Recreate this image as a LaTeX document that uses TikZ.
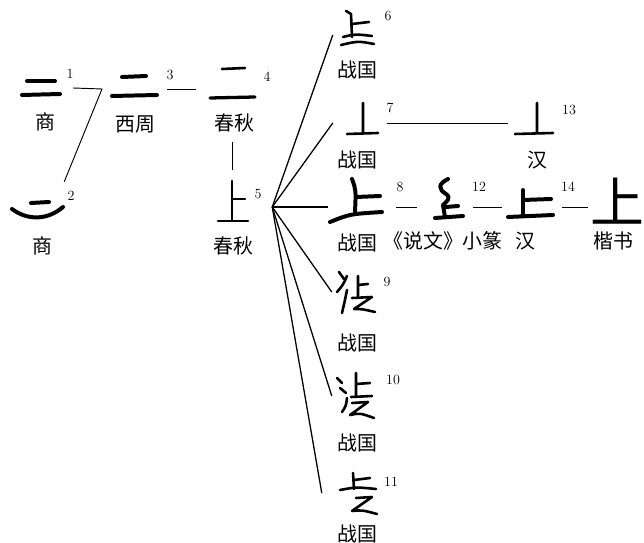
\documentclass[tikz,border=0pt]{standalone}
\usepackage{fontspec}
\usepackage{tikz}
\newfontfamily\cjk{Noto Sans CJK SC}

\begin{document}
\begin{tikzpicture}[x=0.03cm,y=-0.03cm,
        gbox/.style 2 args={rectangle,inner sep=0pt,
                    minimum width=#1*0.03cm,minimum height=#2*0.03cm},
        era/.style={font=\cjk\fontsize{17}{19}\selectfont,inner sep=0pt},
        num/.style={font=\fontsize{12}{12}\selectfont,inner sep=0pt},
        brush/.style={line width=3.4pt,line cap=round,line join=round},
        pen/.style={line width=2.2pt,line cap=round,line join=round},
        link/.style={line width=0.8pt},
        hub/.style={line width=1.1pt}]
      \useasboundingbox (0,0) rectangle (644,543);
      %% ── Glyph boxes (invisible, used as line ends) ───────
      \node[gbox={54}{30}] (g1)  at (46,88)  {};
      \node[gbox={48}{54}] (g2)  at (40,209) {};
      \node[gbox={64}{30}] (g3)  at (135,89) {};
      \node[gbox={72}{106}](g4)  at (232,89) {};
      \node[gbox={80}{74}] (g5)  at (232,207){};
      \node[gbox={48}{50}] (g6)  at (357,35) {};
      \node[gbox={54}{40}] (g7)  at (360,123){};
      \node[gbox={54}{40}] (g13) at (535,123){};
      \node[gbox={68}{46}] (g8)  at (362,207){};
      \node[gbox={56}{46}] (g12) at (445,207){};
      \node[gbox={60}{46}] (g14) at (532,207){};
      \node[gbox={50}{50}] (g9)  at (357,292){};
      \node[gbox={50}{50}] (g10) at (357,396){};
      \node[gbox={60}{50}] (g11) at (352,493){};
      \node[font=\cjk\fontsize{46}{48}\selectfont,inner sep=0pt,
            minimum width=58*0.03cm] (gk) at (617,201) {上};
      \coordinate (k1) at (102,89);
      %% ── Shang / Western Zhou / Spring-Autumn strokes ─────
      \draw[brush] (27,81) -- (55,81);
      \draw[brush] (22,95) -- (60,94);
      \draw[brush] (31,203) -- (49,202);
      \draw[brush] (12,209) .. controls (28,221) and (48,220) .. (63,207);
      \draw[brush] (122,77) -- (146,76);
      \draw[brush] (112,96) -- (157,95);
      \draw[pen] (222,69) -- (245,68);
      \draw[line width=2.8pt,line cap=round] (210,98) -- (255,97);
      \draw[pen] (232,181) -- (232,221) (232,199) -- (245,199)
                 (218,221) -- (248,221);
      %% ── Warring States strokes ───────────────────────────
      \draw[pen] (346,11) -- (351,14) -- (352,37);
      \draw[pen] (352,24) -- (369,22);
      \draw[pen] (343,37) .. controls (355,34) .. (372,36);
      \draw[pen] (341,45) .. controls (358,41) .. (374,44);
      \draw[pen] (363,103) -- (363,133) (347,134) -- (378,133);
      \draw[brush] (352,179) .. controls (356,190) .. (355,212);
      \draw[brush] (356,197) -- (380,196);
      \draw[brush] (330,222) .. controls (350,214) .. (382,212);
      \draw[pen] (339,272) -- (344,279);
      \draw[pen] (347,276) .. controls (343,285) .. (337,292);
      \draw[pen] (347,290) .. controls (345,300) .. (342,313);
      \draw[pen] (358,276) -- (358,296) (358,285) -- (368,284);
      \draw[pen] (352,298) -- (372,297) -- (354,309)
                 .. controls (362,309) .. (375,312);
      \draw[pen] (337,378) -- (342,383);
      \draw[pen] (340,388) -- (346,393);
      \draw[pen] (347,398) .. controls (346,406) .. (342,412);
      \draw[pen] (356,373) -- (356,396) (356,384) -- (370,383);
      \draw[pen] (351,397) -- (372,396);
      \draw[pen] (352,403) -- (368,402) -- (350,415)
                 .. controls (360,413) .. (374,418);
      \draw[pen] (353,473) -- (354,489) (354,480) -- (370,478);
      \draw[pen] (340,490) .. controls (356,487) .. (376,489);
      \draw[pen] (356,498) -- (372,497) -- (352,511)
                 .. controls (362,510) .. (377,514);
      %% ── Seal / Han strokes ───────────────────────────────
      \draw[brush] (448,179) .. controls (438,184) and (438,189) .. (446,194)
                   .. controls (452,198) and (446,202) .. (443,205) -- (445,217);
      \draw[brush] (446,207) -- (458,206);
      \draw[brush] (435,218) -- (463,216);
      \draw[pen] (537,103) -- (537,133) (515,134) -- (553,133);
      \draw[brush] (523,190) -- (523,216) (523,200) -- (551,199)
                   (508,217) -- (553,215);
      %% ── Numbers ──────────────────────────────────────────
      \node[num] (n1)  at (70,74)  {1};
      \node[num] (n2)  at (71,196) {2};
      \node[num] (n3)  at (170,75) {3};
      \node[num] (n4)  at (267,77) {4};
      \node[num] (n5)  at (258,194){5};
      \node[num] (n6)  at (388,16) {6};
      \node[num] (n7)  at (390,108){7};
      \node[num] (n13) at (569,110){13};
      \node[num] (n8)  at (400,187){8};
      \node[num] (n12) at (479,187){12};
      \node[num] (n14) at (568,187){14};
      \node[num] (n9)  at (387,282){9};
      \node[num] (n10) at (393,380){10};
      \node[num] (n11) at (391,482){11};
      %% ── Period labels ────────────────────────────────────
      \node[era] (t1)  at (45,122)  {商};
      \node[era] (t2)  at (42,246)  {商};
      \node[era] (t3)  at (135,124) {西周};
      \node[era] (t4)  at (234,123) {春秋};
      \node[era] (t5)  at (233,246) {春秋};
      \node[era] (t6)  at (357,70)  {战国};
      \node[era] (t7)  at (357,160) {战国};
      \node[era] (t13) at (537,160) {汉};
      \node[era] (t8)  at (357,243) {战国};
      \node[era] (t12) at (443,241) {《说文》小篆};
      \node[era] (t14) at (525,241) {汉};
      \node[era] (tk)  at (613,241) {楷书};
      \node[era] (t9)  at (357,343) {战国};
      \node[era] (t10) at (357,443) {战国};
      \node[era] (t11) at (357,534) {战国};
      %% ── Connectors ───────────────────────────────────────
      \draw[link] (g1.east) -- (k1) -- (g2.north east);
      \draw[link] (g3.east) -- (g4.west);
      \draw[link] (g4.south) -- (g5.north);
      \draw[link] (g7.east) -- (g13.west);
      \draw[link] (g8.east) -- (g12.west);
      \draw[link] (g12.east) -- (g14.west);
      \draw[link] (g14.east) -- (gk.west |- g14.east);
      %% ── Fan out of 5 ─────────────────────────────────────
      \foreach \t in {g6,g7,g8,g9,g10,g11}
        \draw[hub] (g5.east) -- (\t.west);
    \end{tikzpicture}
\end{document}
